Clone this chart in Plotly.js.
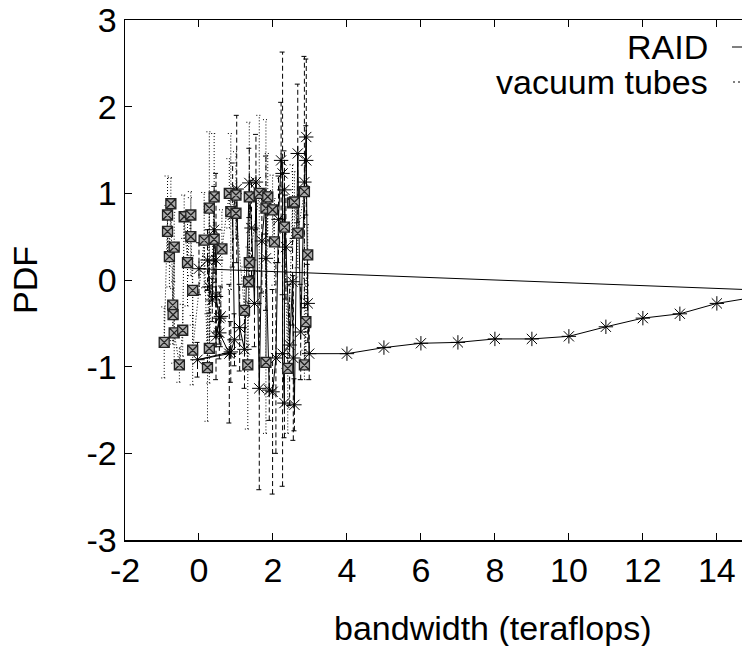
<!DOCTYPE html>
<html>
<head>
<meta charset="utf-8">
<script src="https://cdn.plot.ly/plotly-3.0.1.min.js"></script>
<style>html,body{margin:0;padding:0;background:#fff;overflow:hidden}</style>
</head>
<body>
<div id="chart" style="width:742px;height:646px"></div>
<script>
// RAID series (points in file order), with y error half-lengths
const raidX = [0.23, 0.28, 0.36, 0.41, 0.46, 0.46, 0.55, 0.46, 0.59, 0.55, 0.82, -0.04, 0.86, 0.96, 0.91, 1.02, 1.10, 1.23, 1.36, 1.42, 1.50, 1.54, 1.63, 1.70, 1.81, 1.81, 1.90, 1.99, 2.08, 2.15, 2.22, 2.26, 2.26, 2.31, 2.31, 2.35, 2.45, 2.53, 2.55, 2.58, 2.67, 2.75, 2.85, 2.90, 2.90, 2.94, 2.98, 4, 5, 6, 7, 8, 9, 10, 11, 12, 13, 14, 15, 16, 0.0];
const raidY = [0.23, -0.08, -0.23, 0.58, 0.23, -0.19, -0.44, -0.65, -0.42, -0.61, -0.85, -0.92, -0.83, -0.69, 0.75, 1.05, -0.55, -0.80, 1.12, 0.60, -0.27, 1.13, -1.25, 0.45, 0.98, 0.25, -1.27, -1.29, -0.90, 0.70, 1.38, 1.23, -0.85, -1.42, 1.04, 0.38, -0.75, -0.02, -0.90, -1.44, 1.46, -0.60, 1.13, 1.65, 1.38, -0.27, -0.85, -0.85, -0.78, -0.73, -0.72, -0.68, -0.68, -0.65, -0.54, -0.44, -0.39, -0.27, -0.20, -0.13, 0.13];
const raidErr = [0.35, 0.30, 0.25, 0.50, 1.00, 0.40, 0.30, 0.50, 0.35, 0.30, 0.80, 0.20, 0.35, 0.30, 0.60, 0.85, 0.50, 0.45, 0.40, 0.55, 0.50, 0.55, 1.17, 0.60, 0.45, 0.60, 0.35, 1.18, 1.10, 0.50, 0.67, 1.40, 1.53, 0.40, 0.45, 0.60, 0.70, 0.50, 0.95, 0.30, 0.80, 0.55, 1.45, 0.90, 0.40, 0.45, 0.30, 0, 0, 0, 0, 0, 0, 0, 0, 0, 0, 0, 0, 0, 0.30];

// vacuum tubes series, with y error half-lengths
const vacX = [-0.94, -0.85, -0.85, -0.80, -0.76, -0.71, -0.70, -0.67, -0.67, -0.53, -0.44, -0.40, -0.31, -0.22, -0.22, -0.17, -0.17, 0.14, 0.23, 0.28, 0.28, 0.41, 0.41, 0.62, 0.82, 0.86, 1.00, 1.00, 1.23, 1.32, 1.34, 1.36, 1.36, 1.63, 1.81, 1.81, 1.86, 1.99, 2.04, 2.31, 2.40, 2.53, 2.58, 2.67, 2.85, 2.85, 2.89, 2.94];
const vacY = [-0.72, 0.75, 0.56, 0.27, 0.88, -0.29, -0.40, 0.38, -0.61, -0.98, -0.58, 0.73, 0.20, 0.75, 0.50, -0.12, -0.81, 0.46, -1.01, 0.83, -0.79, 0.96, 0.47, 0.36, 1.00, 0.79, 0.98, 0.77, -0.35, -0.98, -0.02, 0.96, 0.20, 1.00, 0.83, -0.95, 0.96, 0.81, 0.44, 0.61, -1.02, 0.89, 0.90, 0.54, 1.02, -0.98, -0.48, 0.29];
const vacErr = [0.41, 0.45, 0.30, 0.35, 0.30, 0.45, 0.30, 0.40, 0.35, 0.20, 0.30, 0.25, 0.50, 0.27, 0.45, 0.40, 0.40, 0.55, 0.62, 0.88, 0.40, 0.73, 0.50, 0.45, 0.40, 0.90, 0.50, 0.30, 0.50, 0.74, 0.40, 0.86, 0.45, 0.90, 1.02, 0.82, 0.50, 0.40, 0.50, 0.45, 0.75, 0.44, 0.35, 0.40, 0.30, 0.17, 0.50, 0.35];

const xTickVals = [-2, 0, 2, 4, 6, 8, 10, 12, 14];
const xTickText = ['-2', '0', '2', '4', '6', '8', '10', '12', '14'];
const yTickVals = [-3, -2, -1, 0, 1, 2, 3];
const yTickText = ['-3', '-2', '-1', '0', '1', '2', '3'];
const legendNames = ['RAID', 'vacuum tubes'];

function errSegments(xs, ys, es, cap) {
  const ex = [], ey = [];
  for (let i = 0; i < xs.length; i++) {
    const e = es[i];
    if (!e) continue;
    const lo = ys[i] - e, hi = ys[i] + e;
    ex.push(xs[i], xs[i], null); ey.push(lo, hi, null);
    ex.push(xs[i] - cap, xs[i] + cap, null); ey.push(hi, hi, null);
    ex.push(xs[i] - cap, xs[i] + cap, null); ey.push(lo, lo, null);
  }
  return {x: ex, y: ey};
}

const cap = 0.08;
const rE = errSegments(raidX, raidY, raidErr, cap);
const vE = errSegments(vacX, vacY, vacErr, cap);

const font = 'Liberation Sans, Arial, Helvetica, sans-serif';
const FS = 34;

const traces = [
  {x: rE.x, y: rE.y, mode: 'lines', line: {color: '#000', width: 1, dash: '5px,3px'}, hoverinfo: 'skip', showlegend: false},
  {x: raidX, y: raidY, mode: 'lines+markers', name: legendNames[0],
   line: {color: '#000', width: 1},
   marker: {symbol: 'asterisk-open', size: 12, color: '#000', line: {color: '#000', width: 1}}, showlegend: false},
  {x: vE.x, y: vE.y, mode: 'lines', line: {color: '#000', width: 1, dash: '1px,2px'}, hoverinfo: 'skip', showlegend: false},
  {x: vacX, y: vacY, mode: 'lines+markers', name: legendNames[1],
   line: {color: '#000', width: 1, dash: '1px,2px'},
   marker: {symbol: 'square-x', size: 10, color: '#aaa', line: {color: '#222', width: 1.3}}, showlegend: false}
];

const L = 125, T = 20, W = 742, H = 646, B = 540;
const pw = W - L, ph = B - T;
const px = p => (p - L) / pw;
const py = p => (B - p) / ph;

const layout = {
  width: W, height: H,
  margin: {l: L, r: 0, t: T, b: H - B, pad: 0},
  paper_bgcolor: '#fff', plot_bgcolor: '#fff',
  showlegend: false,
  font: {family: font, size: FS, color: '#000'},
  xaxis: {
    range: [-2, 14.68], tickvals: xTickVals, ticktext: xTickText,
    ticks: 'inside', ticklen: 7, tickwidth: 1, tickcolor: '#000',
    showline: true, linecolor: '#000', linewidth: 1.5, mirror: 'ticks',
    showgrid: false, zeroline: false,
    tickfont: {family: font, size: FS, color: '#000'}
  },
  yaxis: {
    range: [-3, 3], tickvals: yTickVals, ticktext: yTickText,
    ticks: 'inside', ticklen: 7, tickwidth: 1, tickcolor: '#000',
    showline: true, linecolor: '#000', linewidth: 1.5, mirror: false,
    showgrid: false, zeroline: false,
    tickfont: {family: font, size: FS, color: '#000'}
  },
  annotations: [
    {xref: 'paper', yref: 'paper', x: px(493), y: py(628), text: 'bandwidth (teraflops)', showarrow: false,
     xanchor: 'center', yanchor: 'middle', font: {family: font, size: FS, color: '#000'}},
    {xref: 'paper', yref: 'paper', x: px(25), y: py(280), text: 'PDF', showarrow: false, textangle: -90,
     xanchor: 'center', yanchor: 'middle', font: {family: font, size: FS, color: '#000'}},
    {xref: 'paper', yref: 'paper', x: px(710), y: py(47), text: legendNames[0], showarrow: false,
     xanchor: 'right', yanchor: 'middle', font: {family: font, size: FS, color: '#000'}},
    {xref: 'paper', yref: 'paper', x: px(710), y: py(82), text: legendNames[1], showarrow: false,
     xanchor: 'right', yanchor: 'middle', font: {family: font, size: FS, color: '#000'}}
  ],
  shapes: [
    {type: 'line', xref: 'paper', yref: 'paper', x0: px(732), x1: px(760), y0: py(47), y1: py(47), line: {color: '#000', width: 1}},
    {type: 'line', xref: 'paper', yref: 'paper', x0: px(733), x1: px(760), y0: py(82), y1: py(82), line: {color: '#000', width: 1, dash: '2px,3px'}}
  ]
};

Plotly.newPlot('chart', traces, layout, {displayModeBar: false, staticPlot: true});
</script>
</body>
</html>
